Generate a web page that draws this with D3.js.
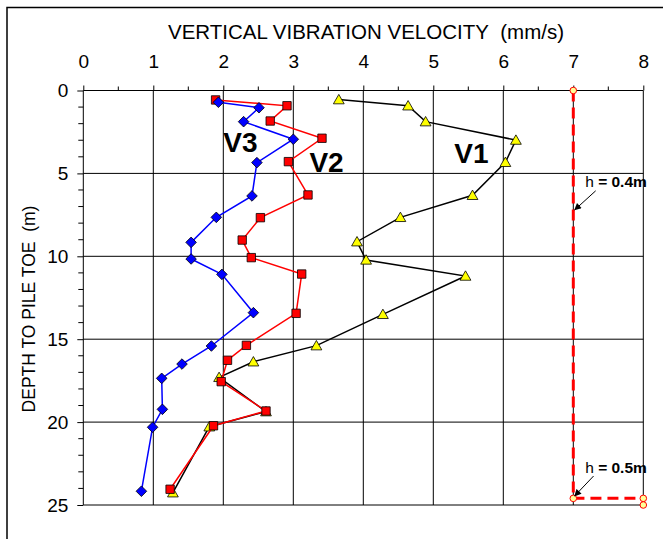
<!DOCTYPE html>
<html><head><meta charset="utf-8">
<script src="https://cdn.jsdelivr.net/npm/d3@7"></script>
<style>html,body{margin:0;padding:0;background:#fff;} svg{display:block;font-family:"Liberation Sans",Arial,sans-serif;}</style>
</head><body>
<svg id="c" width="663" height="539"></svg>
<script>
// ---- data ----
const xTicks = [0,1,2,3,4,5,6,7,8];
const yTicks = [0,5,10,15,20,25];
const v1Depth = [0.55,0.92,1.88,2.99,4.33,6.32,7.65,9.12,10.22,11.19,13.5,15.39,16.36,17.3,19.37,20.28,24.26];
const v1Vel   = [3.65,4.64,4.89,6.18,6.03,5.56,4.53,3.91,4.04,5.46,4.28,3.33,2.43,1.94,2.61,1.80,1.28];
const v2Depth = [0.57,0.92,1.84,2.88,4.29,6.30,7.67,9.02,10.08,11.07,13.44,15.37,16.27,17.56,19.33,20.22,24.05];
const v2Vel   = [1.89,2.91,2.67,3.41,2.93,3.21,2.53,2.27,2.40,3.12,3.04,2.33,2.06,1.97,2.61,1.86,1.24];
const v3Depth = [0.71,1.04,1.88,2.94,4.35,6.36,7.65,9.16,10.16,11.09,13.40,15.41,16.5,17.36,19.23,20.31,24.17];
const v3Vel   = [1.93,2.51,2.29,3.00,2.48,2.41,1.90,1.54,1.54,1.98,2.43,1.83,1.41,1.12,1.13,0.99,0.83];
const limitVel   = [7,7,8,8];
const limitDepth = [0,24.6,24.6,25];
const seriesLabels = [
  {text:"V3", vel:2.0,  depth:3.7},
  {text:"V2", vel:3.23, depth:4.9},
  {text:"V1", vel:5.3,  depth:4.4}
];
const notes = [
  {val:"0.4m", tVel:7.17, tDepth:5.85, aVel:7.32, aDepth:6.05, hVel:7.02, hDepth:7.2},
  {val:"0.5m", tVel:7.17, tDepth:23.1, aVel:7.29, aDepth:23.25, hVel:7.02, hDepth:24.45}
];

// ---- layout ----
const svg = d3.select("#c");
const L = 83.3, R = 643.3, T = 90.5, B = 505;
const x = d3.scaleLinear().domain([0,8]).range([L,R]);
const y = d3.scaleLinear().domain([0,25]).range([T,B]);

svg.append("rect").attr("x",0).attr("y",0).attr("width",663).attr("height",539).attr("fill","#fff");
svg.append("rect").attr("x",7).attr("y",7.5).attr("width",700).attr("height",600)
  .attr("fill","none").attr("stroke","#000").attr("stroke-width",1.5);

// grid
const g = svg.append("g");
g.selectAll("line.vg").data(d3.range(1,9)).join("line")
  .attr("x1",d=>x(d)).attr("x2",d=>x(d)).attr("y1",T).attr("y2",B)
  .attr("stroke","#000").attr("stroke-width",1);
g.selectAll("line.hg").data([5,10,15,20,25]).join("line")
  .attr("x1",L).attr("x2",R).attr("y1",d=>y(d)).attr("y2",d=>y(d))
  .attr("stroke","#000").attr("stroke-width",1);

// top axis
const xa = svg.append("g").attr("transform",`translate(0,${T})`)
  .call(d3.axisTop(x).tickValues(xTicks).tickSize(5).tickFormat(d3.format("d")));
xa.select(".domain").remove();
xa.append("line").attr("x1",L).attr("x2",R).attr("stroke","#000");
xa.selectAll(".tick line").attr("stroke","#000");
xa.selectAll(".tick text").attr("font-size",19).attr("fill","#000").attr("dy",0).attr("y",-23);
xa.selectAll("line.minor").data(d3.range(0.5,8,1)).join("line").attr("class","minor")
  .attr("x1",d=>x(d)).attr("x2",d=>x(d)).attr("y1",0).attr("y2",-4).attr("stroke","#000");
xa.attr("font-family",null);

// left axis
const ya = svg.append("g").attr("transform",`translate(${L},0)`)
  .call(d3.axisLeft(y).tickValues(yTicks).tickSize(6).tickPadding(9).tickFormat(d3.format("d")));
ya.select(".domain").remove();
ya.append("line").attr("y1",T).attr("y2",B).attr("stroke","#000");
ya.selectAll(".tick line").attr("stroke","#000");
ya.selectAll(".tick text").attr("font-size",19).attr("fill","#000");
ya.attr("font-family",null);
ya.selectAll("line.minor").data(d3.range(1,25).filter(d=>d%5)).join("line").attr("class","minor")
  .attr("x1",0).attr("x2",-5).attr("y1",d=>y(d)).attr("y2",d=>y(d)).attr("stroke","#000");

// titles
svg.append("text").attr("x",366).attr("y",38.5).attr("text-anchor","middle")
  .attr("font-size",20.5).text("VERTICAL VIBRATION VELOCITY\u00a0\u00a0(mm/s)");
svg.append("text").attr("transform","translate(35,309) rotate(-90)").attr("text-anchor","middle")
  .attr("font-size",17.5).text("DEPTH TO PILE TOE\u00a0\u00a0(m)");

// series
const line = d3.line().x(d=>x(d[0])).y(d=>y(d[1]));
function series(vel, depth, color, markerPath, fill){
  const pts = vel.map((v,i)=>[v, depth[i]]);
  svg.append("path").attr("d",line(pts)).attr("fill","none").attr("stroke",color).attr("stroke-width",1.5);
  svg.append("g").selectAll("path").data(pts).join("path")
    .attr("transform",d=>`translate(${x(d[0])},${y(d[1])})`)
    .attr("d",markerPath).attr("fill",fill).attr("stroke","#000").attr("stroke-width",0.8);
}
series(v1Vel, v1Depth, "#000", "M0,-5.2L5.4,4.2L-5.4,4.2Z", "#FFFF00");
series(v2Vel, v2Depth, "#FF0000", "M-4.2,-4.2H4.2V4.2H-4.2Z", "#FF0000");
series(v3Vel, v3Depth, "#0000FF", "M0,-5.3L5.3,0L0,5.3L-5.3,0Z", "#0000FF");

// limit line
const lim = limitVel.map((v,i)=>[v, limitDepth[i]]);
svg.append("path").attr("d",line(lim)).attr("fill","none").attr("stroke","#FF0000")
  .attr("stroke-width",3).attr("stroke-dasharray","11,6");
svg.append("g").selectAll("circle").data(lim).join("circle")
  .attr("cx",d=>x(d[0])).attr("cy",d=>y(d[1])).attr("r",3.3)
  .attr("fill","#FFFF99").attr("stroke","#FF0000").attr("stroke-width",1);

// series labels
svg.append("g").selectAll("text").data(seriesLabels).join("text")
  .attr("x",d=>x(d.vel)).attr("y",d=>y(d.depth)).attr("font-size",28).attr("font-weight","bold")
  .attr("fill","#000").text(d=>d.text);

// annotations
const defs = svg.append("defs");
defs.append("marker").attr("id","ah").attr("viewBox","0 0 10 10").attr("refX",9).attr("refY",5)
  .attr("markerWidth",8).attr("markerHeight",7).attr("markerUnits","userSpaceOnUse").attr("orient","auto")
  .append("path").attr("d","M0,0L10,5L0,10Z").attr("fill","#000");
notes.forEach(n=>{
  const t = svg.append("text").attr("x",x(n.tVel)).attr("y",y(n.tDepth)).attr("font-size",15.5).attr("fill","#000");
  t.append("tspan").text("h ");
  t.append("tspan").attr("font-weight","bold").text("= " + n.val);
  svg.append("line").attr("x1",x(n.aVel)).attr("y1",y(n.aDepth)).attr("x2",x(n.hVel)).attr("y2",y(n.hDepth))
    .attr("stroke","#000").attr("stroke-width",1).attr("marker-end","url(#ah)");
});
</script>
</body></html>
